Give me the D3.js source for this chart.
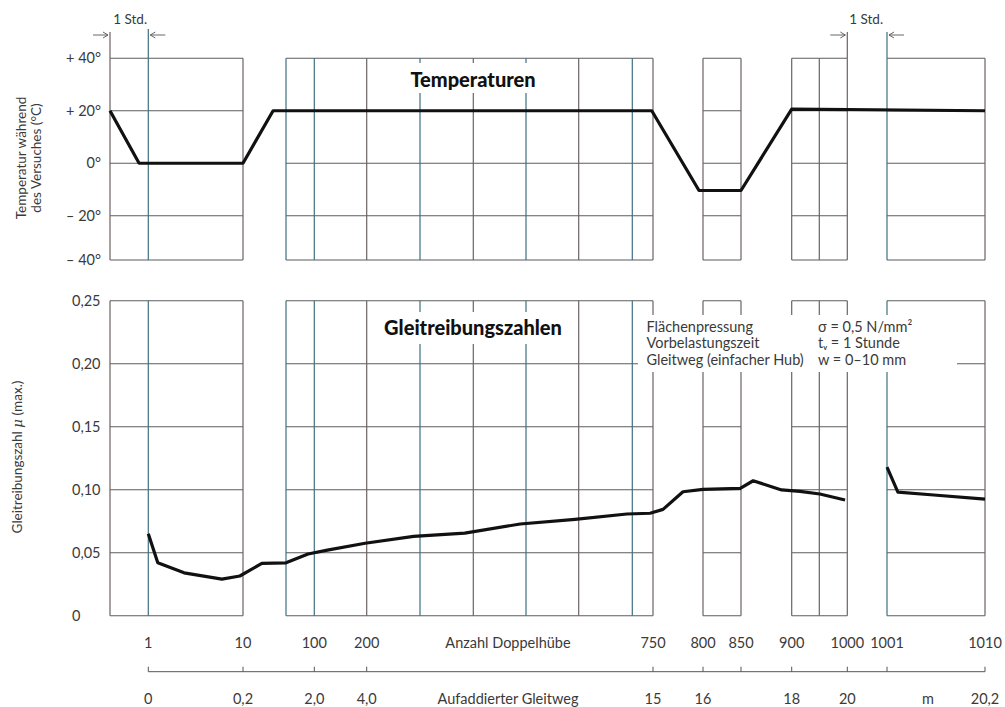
<!DOCTYPE html>
<html><head><meta charset="utf-8">
<script src="https://cdn.jsdelivr.net/npm/d3@7"></script>
<style>
body{margin:0;background:#fff}
svg{display:block}
text{font-family:Lato,"Noto Sans",sans-serif;fill:#3a3a3a}
</style>
</head><body>
<svg id="c" width="1005" height="707"></svg>
<script>
// ---------------- DATA ----------------
// x axis: number of double strokes (Doppelhübe), broken into blocks
const blocks = [[0,10],[50,750],[800,850],[900,1000],[1001,1010]];
const innerLines = [1,100,200,300,400,500,600,700,950];
const tealLines = [1,50,100,300,500,700,1001];

const hubTickValues = [1,10,100,200,750,800,850,900,1000,1001,1010];
const hubTickLabels = ["1","10","100","200","750","800","850","900","1000","1001","1010"];
const wegTickValues = [1,10,100,200,750,800,900,1000,1010];
const wegTickLabels = ["0","0,2","2,0","4,0","15","16","18","20","20,2"];

const tempTicks = [40,20,0,-20,-40];
const tempTickLabels = ["+ 40°","+ 20°","0°","– 20°","– 40°"];
const muTicks = [0,0.05,0.10,0.15,0.20,0.25];
const muTickLabels = ["0","0,05","0,10","0,15","0,20","0,25"];

// temperature during the test (°C)
const tempHub = [0, 0.76, 10, 38, 747, 796, 850, 900, 1010];
const tempVal = [20, 0, 0, 20, 20, -10.4, -10.4, 20.6, 20];

// friction coefficient mu (max.)
const muHub1 = [1, 1.9, 4.4, 8.0, 9.7, 27.5, 50, 89, 125, 197, 288, 384, 489, 593, 690, 743, 760, 780, 800, 849, 862, 890, 915, 951, 996];
const muVal1 = [0.065, 0.042, 0.034, 0.029, 0.0315, 0.0415, 0.042, 0.049, 0.052, 0.0575, 0.063, 0.0655, 0.0728, 0.0765, 0.0807, 0.0813, 0.0844, 0.0984, 0.1003, 0.1011, 0.1071, 0.0998, 0.0987, 0.0966, 0.0918];
const muHub2 = [1001, 1002, 1005.3, 1010];
const muVal2 = [0.118, 0.098, 0.0958, 0.0925];

const annoLeft = ["Flächenpressung","Vorbelastungszeit","Gleitweg (einfacher Hub)"];
const annoRight = ["σ = 0,5 N/mm²","tᵥ = 1 Stunde","w = 0–10 mm"];

// ---------------- LAYOUT ----------------
const svg = d3.select("#c");
const x = d3.scaleLinear()
  .domain([0,1,10,50,100,200,300,400,500,600,700,750,800,850,900,950,1000,1001,1010])
  .range([110,148.3,243,286,314.3,366.7,420,473.3,526,578.7,632.3,653,703,741,791.7,819.3,847.3,887,985]);
const yT = d3.scaleLinear().domain([-40,-20,40]).range([260,215.7,58.3]);
const yM = d3.scaleLinear().domain([0,0.25]).range([615.7,300.7]);

const hCol = "#5c5c5c", vCol = "#6d6262", tCol = "#3d7080";
const vColor = d => tealLines.includes(d) ? tCol : vCol;

function grid(g, y, ticks){
  blocks.forEach(([a,b])=>{
    g.selectAll(null).data(ticks).enter().append("line")
      .attr("x1",x(a)).attr("x2",x(b)).attr("y1",d=>y(d)).attr("y2",d=>y(d))
      .attr("stroke",hCol).attr("stroke-width",1.1);
    const vs = [a,b].concat(innerLines.filter(v=>v>a&&v<b));
    const y0 = y(d3.min(ticks)), y1 = y(d3.max(ticks));
    g.selectAll(null).data(vs).enter().append("line")
      .attr("x1",d=>x(d)).attr("x2",d=>x(d)).attr("y1",y0).attr("y2",y1)
      .attr("stroke",vColor).attr("stroke-width",1.2);
  });
}
const gT = svg.append("g"), gM = svg.append("g");
grid(gT, yT, tempTicks);
grid(gM, yM, muTicks);

// extension lines for "1 Std." markers
[[0,32],[1,29],[1000,32],[1001,32]].forEach(([h,top])=>{
  svg.append("line").attr("x1",x(h)).attr("x2",x(h)).attr("y1",top).attr("y2",yT(40))
    .attr("stroke",vColor(h)).attr("stroke-width",1.2);
});
function arrow(xTip, dir){
  const len = 15, yy = 35, g = svg.append("g").attr("stroke","#555").attr("stroke-width",0.9).attr("fill","none");
  g.append("line").attr("x1",xTip - dir*len).attr("x2",xTip).attr("y1",yy).attr("y2",yy);
  g.append("path").attr("d",`M${xTip-dir*5},${yy-3}L${xTip},${yy}L${xTip-dir*5},${yy+3}`);
}
arrow(x(0)-2, 1); arrow(x(1)+2, -1); arrow(x(1000)-2, 1); arrow(x(1001)+2, -1);
svg.append("text").attr("x",(x(0)+x(1))/2+1).attr("y",24).attr("text-anchor","middle").attr("font-size",13.5).text("1 Std.");
svg.append("text").attr("x",(x(1000)+x(1001))/2-1).attr("y",24).attr("text-anchor","middle").attr("font-size",13.5).text("1 Std.");

// y tick labels
svg.selectAll(null).data(tempTicks).enter().append("text")
  .attr("x",101).attr("y",d=>yT(d)).attr("dy","0.35em").attr("text-anchor","end").attr("font-size",14.5)
  .text((d,i)=>tempTickLabels[i]);
svg.selectAll(null).data(muTicks).enter().append("text")
  .attr("x",72).attr("y",d=>yM(d)).attr("dy","0.35em").attr("font-size",14.5)
  .text((d,i)=>muTickLabels[i]);

// y axis titles
const t1 = svg.append("text").attr("transform","translate(26,158) rotate(-90)").attr("text-anchor","middle").attr("font-size",13.5);
t1.append("tspan").attr("x",0).attr("y",0).text("Temperatur während");
t1.append("tspan").attr("x",0).attr("y",14.5).text("des Versuches (°C)");
const t2 = svg.append("text").attr("transform","translate(22,457) rotate(-90)").attr("text-anchor","middle").attr("font-size",13.5);
t2.append("tspan").text("Gleitreibungszahl ");
t2.append("tspan").attr("font-style","italic").attr("font-family","DejaVu Serif").text("μ");
t2.append("tspan").text(" (max.)");

// panel titles with white backgrounds
svg.append("rect").attr("x",400).attr("y",63).attr("width",145).attr("height",30).attr("fill","#fff");
svg.append("text").attr("x",473).attr("y",80).attr("dy","0.35em").attr("text-anchor","middle")
  .attr("font-size",20).attr("font-weight",900).style("fill","#111").text("Temperaturen");
svg.append("rect").attr("x",375).attr("y",312).attr("width",195).attr("height",32).attr("fill","#fff");
svg.append("text").attr("x",473).attr("y",328).attr("dy","0.35em").attr("text-anchor","middle")
  .attr("font-size",20).attr("font-weight",900).style("fill","#111").text("Gleitreibungszahlen");

// annotation box
svg.append("rect").attr("x",638).attr("y",315).attr("width",319).attr("height",57).attr("fill","#fff");
svg.selectAll(null).data(annoLeft).enter().append("text")
  .attr("x",646.5).attr("y",(d,i)=>326.7+i*16.7).attr("dy","0.35em").attr("font-size",14.5).text(d=>d);
svg.selectAll(null).data(annoRight).enter().append("text")
  .attr("x",818).attr("y",(d,i)=>326.7+i*16.7).attr("dy","0.35em").attr("font-size",14.5).text(d=>d);

// curves
const lineT = d3.line().x(d=>x(d[0])).y(d=>yT(d[1]));
const lineM = d3.line().x(d=>x(d[0])).y(d=>yM(d[1]));
svg.append("path").attr("d",lineT(d3.zip(tempHub,tempVal))).attr("fill","none").attr("stroke","#111").attr("stroke-width",3.2).attr("stroke-linejoin","round");
[[muHub1,muVal1],[muHub2,muVal2]].forEach(([h,v])=>{
  svg.append("path").attr("d",lineM(d3.zip(h,v))).attr("fill","none").attr("stroke","#111").attr("stroke-width",3.2).attr("stroke-linejoin","round");
});

// bottom axis
const axY = 671.7;
svg.append("line").attr("x1",x(1)).attr("x2",x(1010)).attr("y1",axY).attr("y2",axY).attr("stroke","#555").attr("stroke-width",1);
svg.selectAll(null).data(hubTickValues).enter().append("line")
  .attr("x1",d=>x(d)).attr("x2",d=>x(d)).attr("y1",axY-5).attr("y2",axY).attr("stroke","#555").attr("stroke-width",1);
svg.selectAll(null).data(hubTickValues).enter().append("text")
  .attr("x",d=>x(d)).attr("y",643).attr("dy","0.35em").attr("text-anchor","middle").attr("font-size",14.5)
  .text((d,i)=>hubTickLabels[i]);
svg.selectAll(null).data(wegTickValues).enter().append("text")
  .attr("x",d=>x(d)).attr("y",699).attr("dy","0.35em").attr("text-anchor","middle").attr("font-size",14.5)
  .text((d,i)=>wegTickLabels[i]);
svg.append("text").attr("x",508).attr("y",643).attr("dy","0.35em").attr("text-anchor","middle").attr("font-size",14.5).text("Anzahl Doppelhübe");
svg.append("text").attr("x",508).attr("y",699).attr("dy","0.35em").attr("text-anchor","middle").attr("font-size",14.5).text("Aufaddierter Gleitweg");
svg.append("text").attr("x",928).attr("y",699).attr("dy","0.35em").attr("text-anchor","middle").attr("font-size",14.5).text("m");
</script>
</body></html>
